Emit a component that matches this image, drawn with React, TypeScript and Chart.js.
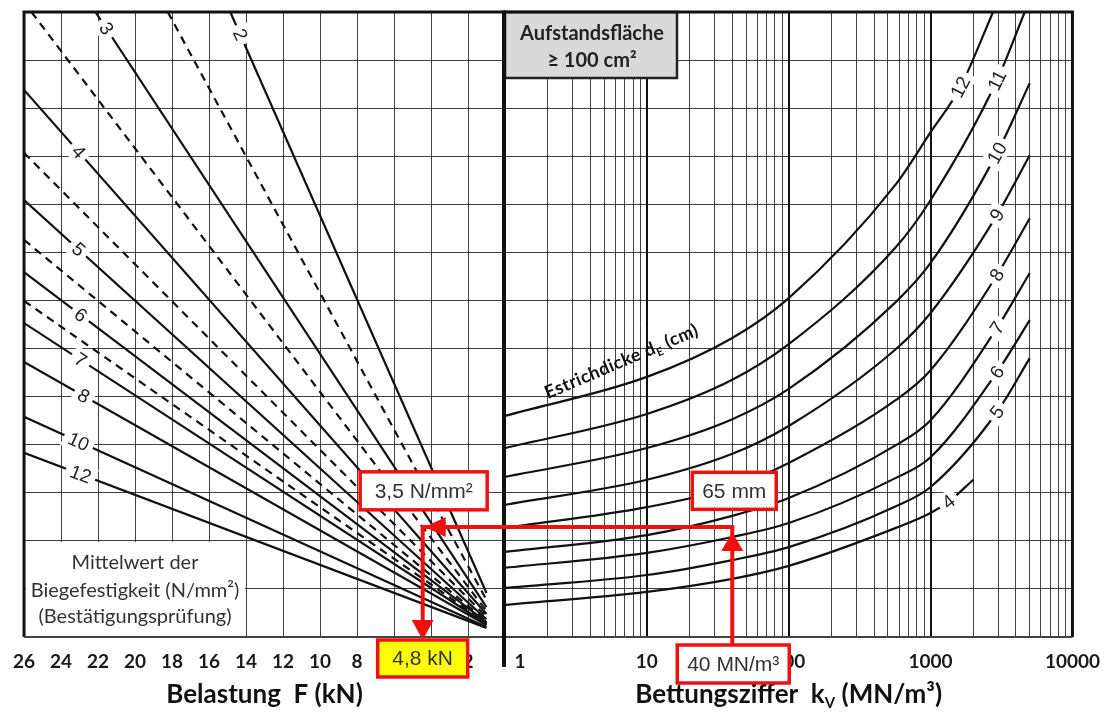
import React, { useEffect, useRef } from "react";
import { Chart, registerables } from "chart.js";

Chart.register(...registerables);

const W = 1113;
const H = 713;

// ---------------- left panel: Belastung F (kN) ----------------
const loadMin = 0;
const loadMax = 26;
const loadStep = 2;
const levelMin = 0;
const levelMax = 13;

const strengthNames = ["2", "2,5", "3", "3,5", "4", "4,5", "5", "5,5", "6", "6,5", "7", "8", "10", "12"];
const strengthDashed = [false, true, false, true, false, true, false, true, false, true, false, false, false, false];
const lineStartF = [14.85, 18.23, 22.14, 25.6, 26, 26, 26, 26, 26, 26, 26, 26, 26, 26];
const lineStartU = [13, 13, 13, 13, 11.38, 10.07, 9.09, 8.26, 7.59, 6.99, 6.53, 5.72, 4.58, 3.83];
const lineEndF = [1, 1, 1, 1, 1, 1, 1, 1, 1, 1, 1, 1, 1, 1];
const lineEndU = [0.915, 0.77, 0.62, 0.54, 0.48, 0.42, 0.37, 0.33, 0.31, 0.29, 0.27, 0.25, 0.21, 0.19];
const lineLabelF = [14.31, null, 21.55, null, 23.05, null, 23.05, null, 22.94, null, 22.94, 22.78, 23.05, 22.94];

// ---------------- right panel: Bettungsziffer k_V ----------------
const kvMin = 1;
const kvMax = 10000;
const kvDecades = [1, 10, 100, 1000, 10000];
const thicknessCm = [4, 5, 6, 7, 8, 9, 10, 11, 12];

const kv4 = [1, 10, 40, 100, 570, 1000, 1337, 2000];
const u4 = [0.67, 0.94, 1.21, 1.48, 2.27, 2.58, 2.81, 3.27];
const kv5 = [1, 10, 40, 100, 570, 1000, 2940, 5000];
const u5 = [1.02, 1.29, 1.6, 1.87, 2.72, 3.12, 4.68, 5.8];
const kv6 = [1, 10, 40, 100, 570, 1000, 2940, 5000];
const u6 = [1.44, 1.75, 2.08, 2.37, 3.31, 3.74, 5.51, 6.59];
const kv7 = [1, 10, 40, 100, 570, 1000, 2940, 5000];
const u7 = [1.77, 2.12, 2.52, 2.89, 3.99, 4.51, 6.43, 7.57];
const kv8 = [1, 10, 40, 100, 570, 1000, 2940, 5000];
const u8 = [2.27, 2.7, 3.12, 3.62, 4.93, 5.55, 7.53, 8.71];
const kv9 = [1, 10, 40, 100, 570, 1000, 2940, 5000];
const u9 = [2.75, 3.27, 3.81, 4.39, 5.99, 6.74, 8.78, 10.02];
const kv10 = [1, 10, 40, 100, 570, 1000, 2940, 5000];
const u10 = [3.33, 3.93, 4.53, 5.16, 6.97, 7.78, 10.07, 11.52];
const kv11 = [1, 10, 40, 100, 570, 1000, 2940, 4610];
const u11 = [3.93, 4.64, 5.35, 6.09, 8.11, 9.09, 11.58, 13.0];
const kv12 = [1, 10, 40, 100, 570, 1000, 1622, 2757];
const u12 = [4.6, 5.41, 6.22, 7.05, 9.42, 10.5, 11.44, 13.0];

const curveKv = [kv4, kv5, kv6, kv7, kv8, kv9, kv10, kv11, kv12];
const curveU = [u4, u5, u6, u7, u8, u9, u10, u11, u12];
const curveLabelIndex = 6;

// ---------------- reading example (red) ----------------
const readLoad = 4.45;
const readKv = 40;
const readLevel = 2.29;
const readBoxLevel = 3.04;
const txtStrength = "3,5 N/mm²";
const txtThickness = "65 mm";
const txtKv = "40 MN/m³";
const txtLoad = "4,8 kN";

const SANS = 'Lato, "Open Sans", "DejaVu Sans", sans-serif';
const ARIAL = '"Liberation Sans", Arial, sans-serif';
const RED = "#f01010";
const GRID = "rgba(25,25,25,0.82)";
const INK = "#111";

function kvGridValues() {
  const vals: number[] = [];
  for (let d = 1; d < kvMax; d *= 10) {
    for (let m = 1; m < 10; m++) vals.push(m * d);
  }
  vals.push(kvMax);
  return vals;
}

function isDecade(v: number) {
  return kvDecades.indexOf(v) >= 0;
}

function arrowHead(ctx: any, tx: number, ty: number, dx: number, dy: number, len: number, half: number) {
  const bx = tx - dx * len;
  const by = ty - dy * len;
  const px = -dy;
  const py = dx;
  ctx.beginPath();
  ctx.moveTo(tx, ty);
  ctx.lineTo(bx + px * half, by + py * half);
  ctx.lineTo(bx - px * half, by - py * half);
  ctx.closePath();
  ctx.fill();
}

function redBox(ctx: any, cx: number, cy: number, w: number, h: number, text: string, fill: string) {
  ctx.save();
  ctx.fillStyle = fill;
  ctx.fillRect(cx - w / 2, cy - h / 2, w, h);
  ctx.strokeStyle = RED;
  ctx.lineWidth = 3.5;
  ctx.strokeRect(cx - w / 2, cy - h / 2, w, h);
  ctx.fillStyle = "#333";
  ctx.font = `21px ${ARIAL}`;
  ctx.textAlign = "center";
  ctx.textBaseline = "middle";
  ctx.fillText(text, cx, cy + 1);
  ctx.restore();
}

function rotatedLabel(ctx: any, text: string, x: number, y: number, angle: number, size: number) {
  ctx.save();
  ctx.translate(x, y);
  ctx.rotate(angle);
  ctx.font = `${size}px ${ARIAL}`;
  const w = ctx.measureText(text).width;
  ctx.fillStyle = "#fff";
  ctx.fillRect(-w / 2 - 5, -size * 0.55, w + 10, size * 1.1);
  ctx.fillStyle = "#222";
  ctx.textAlign = "center";
  ctx.textBaseline = "middle";
  ctx.fillText(text, 0, 1);
  ctx.restore();
}

function drawParts(ctx: any, parts: any[], x: number, y: number, align: string) {
  let total = 0;
  parts.forEach((p) => {
    ctx.font = p.font;
    total += ctx.measureText(p.t).width;
  });
  let cx = align === "center" ? x - total / 2 : x;
  ctx.textAlign = "left";
  ctx.textBaseline = "alphabetic";
  parts.forEach((p) => {
    ctx.font = p.font;
    ctx.fillText(p.t, cx, y + (p.dy || 0));
    cx += ctx.measureText(p.t).width;
  });
}

function curveLevelAt(kArr: number[], uArr: number[], k: number) {
  const lk = Math.log10(k);
  for (let i = 0; i < kArr.length - 1; i++) {
    const a = Math.log10(kArr[i]);
    const b = Math.log10(kArr[i + 1]);
    if (lk >= a && lk <= b) return uArr[i] + ((lk - a) / (b - a)) * (uArr[i + 1] - uArr[i]);
  }
  return uArr[uArr.length - 1];
}

const leftDecor = {
  id: "leftDecor",
  beforeDatasetsDraw(chart: any) {
    const { ctx, scales } = chart;
    const x = scales.x;
    const y = scales.y;
    const x0 = x.getPixelForValue(loadMax);
    const x1 = x.getPixelForValue(14);
    const yT = y.getPixelForValue(2);
    const yB = y.getPixelForValue(0);
    ctx.save();
    ctx.fillStyle = "#fff";
    ctx.fillRect(x0 + 2, yT + 1, x1 - x0 - 3, yB - yT - 2);
    ctx.restore();
  },
  afterDatasetsDraw(chart: any) {
    const { ctx, scales } = chart;
    const x = scales.x;
    const y = scales.y;
    strengthNames.forEach((name, i) => {
      const f = lineLabelF[i];
      if (f === null) return;
      const u = lineStartU[i] + ((f - lineStartF[i]) * (lineEndU[i] - lineStartU[i])) / (lineEndF[i] - lineStartF[i]);
      const pxS = x.getPixelForValue(lineStartF[i]);
      const pyS = y.getPixelForValue(lineStartU[i]);
      const pxE = x.getPixelForValue(lineEndF[i]);
      const pyE = y.getPixelForValue(lineEndU[i]);
      const ang = Math.atan2(pyE - pyS, pxE - pxS);
      rotatedLabel(ctx, name, x.getPixelForValue(f), y.getPixelForValue(u), ang, 19);
    });
  },
  afterDraw(chart: any) {
    const { ctx, scales, chartArea } = chart;
    const x = scales.x;
    const y = scales.y;
    const { left, right, top, bottom } = chartArea;
    ctx.save();
    // frame
    ctx.strokeStyle = INK;
    ctx.lineWidth = 3;
    ctx.beginPath();
    ctx.moveTo(left, bottom);
    ctx.lineTo(left, top);
    ctx.lineTo(right, top);
    ctx.stroke();
    ctx.strokeStyle = "#444";
    ctx.lineWidth = 2;
    ctx.beginPath();
    ctx.moveTo(left, bottom);
    ctx.lineTo(right, bottom);
    ctx.stroke();

    // explanatory text
    const cx = (x.getPixelForValue(loadMax) + x.getPixelForValue(14)) / 2;
    ctx.fillStyle = "#333";
    ctx.font = `20px ${SANS}`;
    ctx.textAlign = "center";
    ctx.textBaseline = "middle";
    ctx.fillText("Mittelwert der", cx, bottom - 74);
    ctx.fillText("Biegefestigkeit (N/mm²)", cx, bottom - 46);
    ctx.fillText("(Bestätigungsprüfung)", cx, bottom - 20);

    // axis title
    ctx.fillStyle = INK;
    ctx.font = `bold 26px ${SANS}`;
    ctx.textAlign = "center";
    ctx.textBaseline = "alphabetic";
    ctx.fillText("Belastung  F (kN)", (left + right) / 2, 703);

    // red reading path
    const xr = x.getPixelForValue(readLoad);
    const yr = y.getPixelForValue(readLevel);
    ctx.strokeStyle = RED;
    ctx.fillStyle = RED;
    ctx.lineWidth = 4;
    ctx.beginPath();
    ctx.moveTo(right + 2, yr);
    ctx.lineTo(xr - 2, yr);
    ctx.moveTo(xr, yr - 2);
    ctx.lineTo(xr, bottom - 15);
    ctx.stroke();
    arrowHead(ctx, xr + 2, yr, -1, 0, 21, 10);
    arrowHead(ctx, xr, bottom + 3, 0, 1, 20, 11);
    ctx.restore();

    redBox(ctx, xr + 1, y.getPixelForValue(readBoxLevel), 127, 38, txtStrength, "#fff");
    redBox(ctx, xr, bottom + 21.5, 90, 37, txtLoad, "#ffff00");
  },
};

const rightDecor = {
  id: "rightDecor",
  afterDatasetsDraw(chart: any) {
    const { ctx, scales } = chart;
    const x = scales.x;
    const y = scales.y;
    thicknessCm.forEach((d, i) => {
      const ks = curveKv[i];
      const us = curveU[i];
      const j = curveLabelIndex;
      const px0 = x.getPixelForValue(ks[j - 1]);
      const py0 = y.getPixelForValue(us[j - 1]);
      const px1 = x.getPixelForValue(ks[j + 1]);
      const py1 = y.getPixelForValue(us[j + 1]);
      const ang = Math.atan2(py1 - py0, px1 - px0);
      rotatedLabel(ctx, String(d), x.getPixelForValue(ks[j]), y.getPixelForValue(us[j]), ang, 19);
    });

    // curve family caption along the 12 cm curve
    const k0 = 2;
    const i12 = thicknessCm.length - 1;
    const ax = x.getPixelForValue(k0);
    const ay = y.getPixelForValue(curveLevelAt(curveKv[i12], curveU[i12], k0)) - 5;
    ctx.save();
    ctx.translate(ax, ay);
    ctx.rotate((-23 * Math.PI) / 180);
    ctx.fillStyle = INK;
    (ctx as any).letterSpacing = "0.5px";
    drawParts(
      ctx,
      [
        { t: "Estrichdicke d", font: `bold 18px ${SANS}` },
        { t: "E", font: `bold 11px ${SANS}`, dy: 4 },
        { t: " (cm)", font: `bold 18px ${SANS}` },
      ],
      0,
      0,
      "left"
    );
    ctx.restore();
  },
  afterDraw(chart: any) {
    const { ctx, scales, chartArea } = chart;
    const x = scales.x;
    const y = scales.y;
    const { left, right, top, bottom } = chartArea;
    ctx.save();

    // grey info box
    ctx.fillStyle = "#d9d9d9";
    ctx.fillRect(left, top, 172, 66);
    ctx.strokeStyle = "#222";
    ctx.lineWidth = 2.5;
    ctx.strokeRect(left, top, 172, 66);
    ctx.fillStyle = "#222";
    ctx.font = `bold 20px ${SANS}`;
    ctx.textAlign = "center";
    ctx.textBaseline = "middle";
    ctx.fillText("Aufstandsfläche", left + 87, top + 22);
    ctx.fillText("≥ 100 cm²", left + 87, top + 49);

    // frame
    ctx.strokeStyle = INK;
    ctx.lineWidth = 3;
    ctx.beginPath();
    ctx.moveTo(left, top);
    ctx.lineTo(right, top);
    ctx.lineTo(right, bottom);
    ctx.stroke();
    ctx.strokeStyle = "#444";
    ctx.lineWidth = 2;
    ctx.beginPath();
    ctx.moveTo(left, bottom);
    ctx.lineTo(right, bottom);
    ctx.stroke();
    // separator between the two panels
    ctx.strokeStyle = INK;
    ctx.lineWidth = 4;
    ctx.beginPath();
    ctx.moveTo(left - 1, top - 1.5);
    ctx.lineTo(left - 1, bottom + 30);
    ctx.stroke();

    // first tick label, set beside the separator
    ctx.fillStyle = "#1a1a1a";
    ctx.font = `bold 19px ${SANS}`;
    ctx.textAlign = "center";
    ctx.textBaseline = "middle";
    ctx.fillText("1", x.getPixelForValue(kvMin) + 15, bottom + 13 + 11.4);

    // axis title with subscript
    ctx.fillStyle = INK;
    drawParts(
      ctx,
      [
        { t: "Bettungsziffer  k", font: `bold 26px ${SANS}` },
        { t: "V", font: `bold 15px ${SANS}`, dy: 5 },
        { t: " (MN/m³)", font: `bold 26px ${SANS}` },
      ],
      (left + right) / 2,
      703,
      "center"
    );

    // red reading path
    const xk = x.getPixelForValue(readKv);
    const yr = y.getPixelForValue(readLevel);
    ctx.strokeStyle = RED;
    ctx.fillStyle = RED;
    ctx.lineWidth = 4;
    ctx.beginPath();
    ctx.moveTo(left - 6, yr);
    ctx.lineTo(xk + 2, yr);
    ctx.moveTo(xk, yr - 2);
    ctx.lineTo(xk, bottom + 9);
    ctx.stroke();
    arrowHead(ctx, xk, yr + 5, 0, -1, 19, 11);
    ctx.restore();

    redBox(ctx, xk + 2, y.getPixelForValue(readBoxLevel), 84, 37, txtThickness, "#fff");
    redBox(ctx, xk + 1, bottom + 27, 112, 38, txtKv, "#fff");
  },
};

function leftConfig(): any {
  const datasets = strengthNames.map((name, i) => ({
    label: name + " N/mm²",
    data: [
      { x: lineStartF[i], y: lineStartU[i] },
      { x: lineEndF[i], y: lineEndU[i] },
    ],
    borderColor: INK,
    borderWidth: 2.2,
    borderDash: strengthDashed[i] ? [8, 6] : [],
    pointRadius: 0,
    fill: false,
    tension: 0,
  }));
  return {
    type: "line",
    data: { datasets },
    plugins: [leftDecor],
    options: {
      responsive: false,
      animation: false,
      events: [],
      layout: { padding: { left: 20, right: W - 505, top: 12, bottom: 0 } },
      plugins: { legend: { display: false }, tooltip: { enabled: false }, title: { display: false } },
      scales: {
        x: {
          type: "linear",
          min: loadMin,
          max: loadMax,
          reverse: true,
          afterFit: (s: any) => {
            s.height = 76;
          },
          ticks: {
            stepSize: loadStep,
            autoSkip: false,
            maxRotation: 0,
            padding: 13,
            color: "#1a1a1a",
            font: { family: SANS, size: 19, weight: "bold" },
            callback: (v: any) => (v === 0 ? "" : String(v)),
          },
          grid: { color: GRID, lineWidth: 1, drawTicks: false },
          border: { display: false },
        },
        y: {
          type: "linear",
          min: levelMin,
          max: levelMax,
          afterFit: (s: any) => {
            s.width = 0;
          },
          ticks: { display: false, stepSize: 1 },
          grid: { color: GRID, lineWidth: 1, drawTicks: false },
          border: { display: false },
        },
      },
    },
  };
}

function rightConfig(): any {
  const datasets = thicknessCm.map((d, i) => ({
    label: d + " cm",
    data: curveKv[i].map((k, j) => ({ x: k, y: curveU[i][j] })),
    borderColor: INK,
    borderWidth: 2.2,
    pointRadius: 0,
    fill: false,
    cubicInterpolationMode: "monotone",
  }));
  const gridVals = kvGridValues();
  return {
    type: "line",
    data: { datasets },
    plugins: [rightDecor],
    options: {
      responsive: false,
      animation: false,
      events: [],
      layout: { padding: { left: 505, right: W - 1078, top: 12, bottom: 0 } },
      plugins: { legend: { display: false }, tooltip: { enabled: false }, title: { display: false } },
      scales: {
        x: {
          type: "logarithmic",
          min: kvMin,
          max: kvMax,
          afterBuildTicks: (s: any) => {
            s.ticks = gridVals.map((v) => ({ value: v }));
          },
          afterFit: (s: any) => {
            s.height = 76;
          },
          ticks: {
            autoSkip: false,
            maxRotation: 0,
            padding: 13,
            color: "#1a1a1a",
            font: { family: SANS, size: 19, weight: "bold" },
            callback: (v: any) => (isDecade(v) && v !== kvMin ? String(v) : ""),
          },
          grid: {
            drawTicks: false,
            color: (c: any) => (c.tick && isDecade(c.tick.value) ? "#111" : GRID),
            lineWidth: (c: any) => (c.tick && isDecade(c.tick.value) ? 2 : 1),
          },
          border: { display: false },
        },
        y: {
          type: "linear",
          min: levelMin,
          max: levelMax,
          afterFit: (s: any) => {
            s.width = 0;
          },
          ticks: { display: false, stepSize: 1 },
          grid: { color: GRID, lineWidth: 1, drawTicks: false },
          border: { display: false },
        },
      },
    },
  };
}

export default function App() {
  const leftRef = useRef<HTMLCanvasElement>(null);
  const rightRef = useRef<HTMLCanvasElement>(null);
  useEffect(() => {
    const lc = new Chart(leftRef.current as any, leftConfig());
    const rc = new Chart(rightRef.current as any, rightConfig());
    return () => {
      lc.destroy();
      rc.destroy();
    };
  }, []);
  return (
    <div style={{ position: "absolute", left: 0, top: 0, width: W, height: H, background: "#fff", overflow: "hidden" }}>
      <canvas ref={leftRef} width={W} height={H} style={{ position: "absolute", left: 0, top: 0 }} />
      <canvas ref={rightRef} width={W} height={H} style={{ position: "absolute", left: 0, top: 0 }} />
    </div>
  );
}
